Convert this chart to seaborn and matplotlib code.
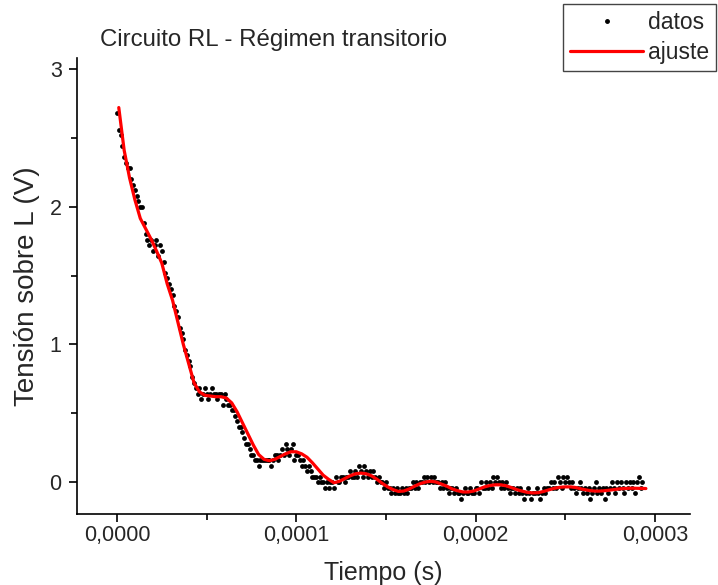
import numpy as np
import pandas as pd
import matplotlib
matplotlib.use("Agg")
import matplotlib.pyplot as plt
from matplotlib.ticker import MultipleLocator, FuncFormatter
from matplotlib.lines import Line2D
import seaborn as sns

# datos del osciloscopio (V), una muestra cada 1 us desde t = 0
v_datos = [
    2.68, 2.56, 2.52, 2.44, 2.36, 2.32, 2.28, 2.28, 2.20, 2.16,
    2.12, 2.08, 2.04, 2.00, 2.00, 1.88, 1.80, 1.76, 1.72, 1.76,
    1.68, 1.72, 1.76, 1.64, 1.72, 1.68, 1.60, 1.52, 1.48, 1.44,
    1.40, 1.36, 1.28, 1.24, 1.20, 1.12, 1.08, 1.04, 0.96, 0.92,
    0.88, 0.84, 0.76, 0.72, 0.68, 0.64, 0.68, 0.60, 0.64, 0.68,
    0.64, 0.60, 0.64, 0.68, 0.64, 0.64, 0.60, 0.64, 0.64, 0.56,
    0.64, 0.60, 0.56, 0.56, 0.52, 0.52, 0.48, 0.44, 0.40, 0.40,
    0.36, 0.32, 0.28, 0.28, 0.24, 0.20, 0.20, 0.16, 0.16, 0.12,
    0.16, 0.16, 0.16, 0.16, 0.16, 0.16, 0.12, 0.16, 0.20, 0.20,
    0.16, 0.20, 0.24, 0.20, 0.28, 0.24, 0.20, 0.24, 0.28, 0.16,
    0.20, 0.20, 0.16, 0.12, 0.16, 0.12, 0.08, 0.12, 0.08, 0.04,
    0.04, 0.04, 0.00, 0.04, 0.00, 0.00, -0.04, 0.00, -0.04, 0.00,
    0.00, -0.04, 0.04, 0.00, 0.00, 0.04, 0.04, 0.00, 0.04, 0.04,
    0.08, 0.04, 0.04, 0.08, 0.04, 0.12, 0.08, 0.04, 0.12, 0.08,
    0.04, 0.08, 0.04, 0.08, 0.04, 0.00, 0.04, 0.00, 0.00, -0.04,
    0.00, -0.04, -0.04, -0.08, -0.04, -0.08, -0.04, -0.08, -0.08, -0.04,
    -0.08, -0.04, -0.08, -0.04, -0.04, 0.00, -0.04, 0.00, -0.04, 0.00,
    0.00, 0.04, 0.00, 0.04, 0.00, 0.04, 0.00, 0.04, 0.00, 0.00,
    -0.04, 0.00, -0.04, 0.00, -0.04, -0.08, -0.04, -0.04, -0.08, -0.04,
    -0.08, -0.08, -0.12, -0.08, -0.04, -0.08, -0.08, -0.04, -0.08, -0.08,
    -0.04, -0.04, -0.08, 0.00, -0.04, -0.04, 0.00, -0.04, 0.00, -0.04,
    0.04, 0.00, 0.04, 0.00, -0.04, 0.00, -0.04, 0.00, -0.04, -0.08,
    -0.04, -0.04, -0.08, -0.04, -0.08, -0.04, -0.08, -0.12, -0.08, -0.04,
    -0.08, -0.12, -0.08, -0.08, -0.04, -0.08, -0.12, -0.08, -0.04, -0.08,
    -0.04, -0.04, 0.00, -0.04, 0.00, -0.04, 0.04, 0.00, -0.04, 0.04,
    0.00, 0.04, 0.00, -0.04, 0.00, -0.04, -0.08, -0.04, 0.00, -0.04,
    -0.08, -0.04, -0.08, -0.04, -0.12, -0.08, -0.04, 0.00, -0.08, -0.04,
    -0.08, -0.04, -0.12, -0.04, -0.08, -0.04, 0.00, -0.04, -0.08, 0.00,
    -0.04, 0.00, -0.04, -0.08, 0.00, -0.04, 0.00, -0.04, 0.00, -0.08,
    0.00, 0.04, -0.04, 0.00,
]
t0_datos = 0.0
dt_datos = 1e-6

# curva de ajuste (V), cada 3 us desde t = 1 us
v_ajuste = [
    2.72, 2.41, 2.21, 2.05, 1.915, 1.84, 1.765, 1.68, 1.59, 1.44,
    1.32, 1.16, 1.00, 0.86, 0.72, 0.655, 0.63, 0.625, 0.62, 0.62,
    0.61, 0.575, 0.51, 0.43, 0.35, 0.27, 0.20, 0.165, 0.155, 0.165,
    0.185, 0.205, 0.22, 0.22, 0.205, 0.18, 0.14, 0.095, 0.05, 0.02,
    -0.005, 0.005, 0.025, 0.045, 0.06, 0.065, 0.06, 0.045, 0.02, -0.01,
    -0.035, -0.055, -0.068, -0.065, -0.05, -0.03, -0.012, 0.0, 0.006, 0.0,
    -0.015, -0.03, -0.05, -0.063, -0.072, -0.072, -0.065, -0.05, -0.035, -0.025,
    -0.02, -0.02, -0.027, -0.04, -0.055, -0.066, -0.075, -0.079, -0.077, -0.068,
    -0.056, -0.045, -0.038, -0.035, -0.035, -0.04, -0.05, -0.058, -0.064, -0.066,
    -0.064, -0.06, -0.055, -0.05, -0.047, -0.045, -0.045, -0.046, -0.047,
]
t0_ajuste = 1e-6
dt_ajuste = 3e-6

df_datos = pd.DataFrame({
    "t": t0_datos + dt_datos * np.arange(len(v_datos)),
    "v": v_datos,
})
df_ajuste = pd.DataFrame({
    "t": t0_ajuste + dt_ajuste * np.arange(len(v_ajuste)),
    "v": v_ajuste,
})

sns.set_theme(style="ticks")
plt.rcParams["font.family"] = ["Liberation Sans", "DejaVu Sans"]

fig = plt.figure(figsize=(7.18, 5.85), dpi=100)
ax = fig.add_axes([77 / 718, 71 / 585, 613 / 718, 456 / 585])

sns.scatterplot(data=df_datos, x="t", y="v", ax=ax, color="black", s=12,
                linewidth=0, legend=False, zorder=2)
sns.lineplot(data=df_ajuste, x="t", y="v", ax=ax, color="red", linewidth=2.3,
             estimator=None, sort=False, legend=False, zorder=3)

ax.set_xlim(-22.3e-6, 319.6e-6)
ax.set_ylim(-0.232, 3.08)

ax.xaxis.set_major_locator(MultipleLocator(1e-4))
ax.xaxis.set_minor_locator(MultipleLocator(5e-5))
ax.yaxis.set_major_locator(MultipleLocator(1))
ax.yaxis.set_minor_locator(MultipleLocator(0.5))
ax.xaxis.set_major_formatter(FuncFormatter(lambda v, p: f"{v:.4f}".replace(".", ",")))
ax.yaxis.set_major_formatter(FuncFormatter(lambda v, p: f"{v:.0f}"))

ax.tick_params(which="major", direction="out", length=6, width=1.2,
               labelsize=15.5, color="black")
ax.tick_params(axis="x", which="major", pad=2)
ax.tick_params(axis="y", which="major", pad=5)
ax.tick_params(which="minor", direction="out", length=4, width=1.2, color="black")
for side in ["top", "right"]:
    ax.spines[side].set_visible(False)
for side in ["left", "bottom"]:
    ax.spines[side].set_linewidth(1.2)
    ax.spines[side].set_color("black")

ax.set_xlabel("Tiempo (s)", fontsize=18, labelpad=11)
ax.set_ylabel("Tensión sobre L (V)", fontsize=20, labelpad=7)
fig.text(100 / 718, 1 - 40 / 585, "Circuito RL - Régimen transitorio",
         fontsize=17.3, ha="left", va="center")

handles = [
    Line2D([], [], color="black", marker="o", markersize=2.5, linestyle="none"),
    Line2D([], [], color="red", linewidth=2.3),
]
fig.legend(handles, ["datos", "ajuste"], loc="upper right",
           bbox_to_anchor=(716 / 718, 1 - 4 / 585), fontsize=16.5,
           frameon=True, fancybox=False, edgecolor="#444444", framealpha=1,
           handlelength=3.2, handletextpad=0.2, borderpad=0.3, labelspacing=0.3,
           borderaxespad=0)

fig.savefig("out.png", dpi=100)
